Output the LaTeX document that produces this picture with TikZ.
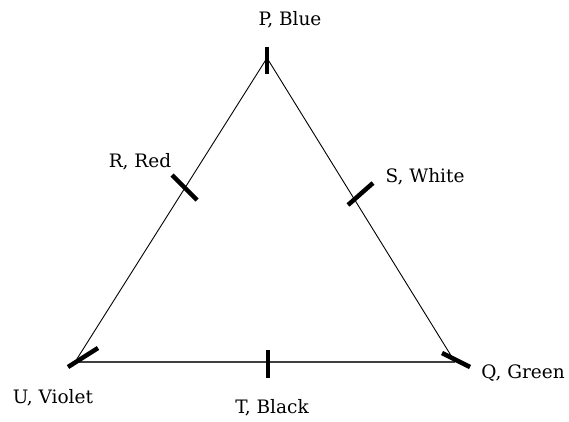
\documentclass[tikz,border=0pt]{standalone}
\usepackage{fontspec}
\setmainfont{DejaVu Serif}
\usepackage{tikz}
\usetikzlibrary{positioning}

\begin{document}
\begin{tikzpicture}[
	x=1pt,y=-1pt,
	side/.style={
		draw=black,
		line width=0.9pt
	},
	base/.style={
		draw=black!75,
		line width=1.8pt
	},
	mark line/.style={
		draw=black,
		line width=4.5pt
	},
	vlabel/.style={
		font=\fontsize{18.5}{20}\selectfont,
		inner sep=0pt
	}
	]
	\useasboundingbox (0,0) rectangle (569,422);
	
	\coordinate (P) at (267,58);
	\coordinate (U) at (75,362);
	\coordinate (Q) at (455,362);
	
	\draw[side] (U) -- (P) -- (Q);
	\draw[base] (U) -- (Q);
	
	% marks
	\coordinate (pa) at (267,47);  \coordinate (pb) at (267,74);
	\coordinate (ra) at (172,175); \coordinate (rb) at (197,200);
	\coordinate (sa) at (348,205); \coordinate (sb) at (373,183);
	\coordinate (ua) at (68,367);  \coordinate (ub) at (98,348);
	\coordinate (ta) at (268,350); \coordinate (tb) at (268,378);
	\coordinate (qa) at (442,353); \coordinate (qb) at (470,367);
	\draw[mark line] (pa) -- (pb);
	\draw[mark line] (ra) -- (rb);
	\draw[mark line] (sa) -- (sb);
	\draw[mark line] (ua) -- (ub);
	\draw[mark line] (ta) -- (tb);
	\draw[mark line] (qa) -- (qb);
	
	\node[vlabel] (p lbl) at (290,20) {P, Blue};
	\node[vlabel] (r lbl) at (140,162) {R, Red};
	\node[vlabel] (s lbl) at (425,177) {S, White};
	\node[vlabel] (u lbl) at (53,398) {U, Violet};
	\node[vlabel] (t lbl) at (272,408) {T, Black};
	\node[vlabel] (q lbl) at (523,373) {Q, Green};
\end{tikzpicture}
\end{document}
